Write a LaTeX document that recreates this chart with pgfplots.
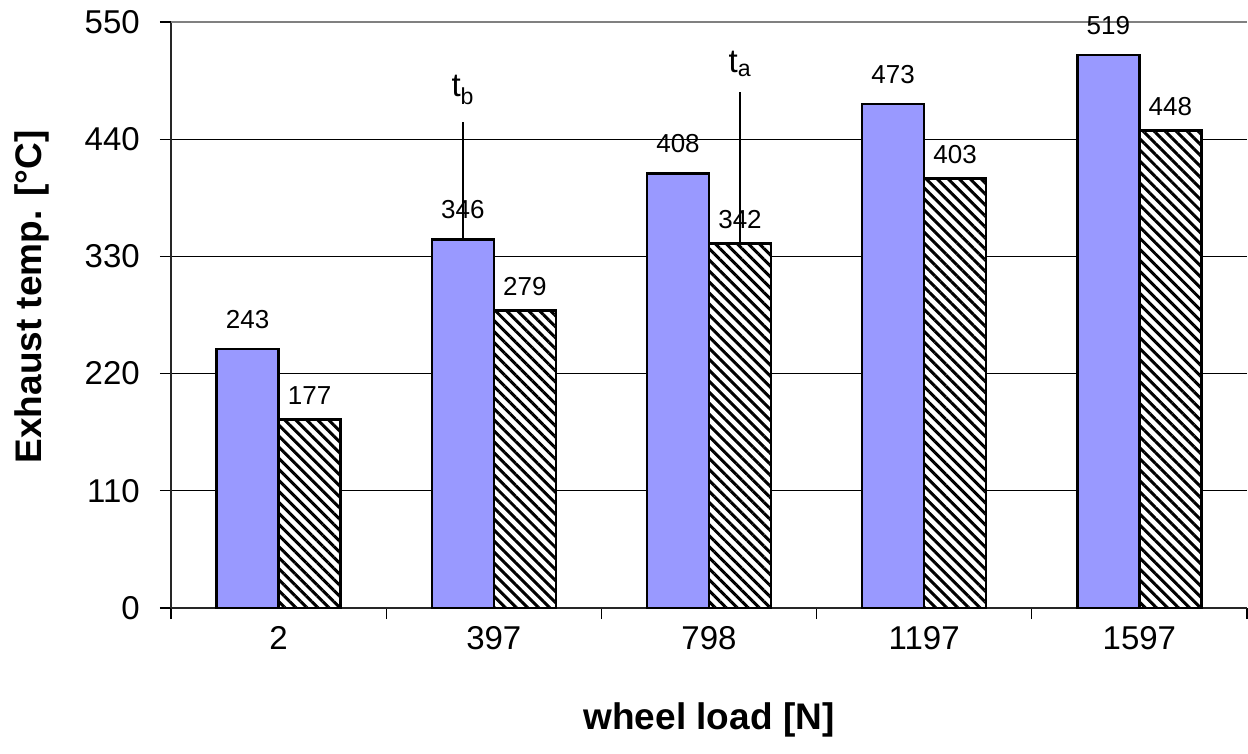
\documentclass[border=0pt]{standalone}
\usepackage{fontspec}
\setmainfont{Liberation Sans}
\usepackage{pgfplots}
\pgfplotsset{compat=1.18}
\usetikzlibrary{patterns.meta}

\definecolor{barblue}{HTML}{9999FF}

\begin{document}
\begin{tikzpicture}
\path[use as bounding box] (-171pt,-145pt) rectangle (1077pt,608pt);
\begin{axis}[
    at={(0,0)}, anchor=south west,
    scale only axis,
    width=1076pt, height=586pt,
    ybar=0pt, bar width=62pt,
    xmin=-0.5, xmax=4.5,
    ymin=0, ymax=550,
    axis lines*=left,
    axis line style={line width=1.5pt, black!85},
    xtick={-0.5,0.5,1.5,2.5,3.5,4.5},
    xticklabels={},
    extra x ticks={0,1,2,3,4},
    extra x tick labels={2,397,798,1197,1597},
    extra x tick style={major tick length=0pt, grid=none},
    ytick={0,110,220,330,440},
    extra y ticks={550},
    extra y tick style={grid style={gray, line width=1.5pt}},
    ymajorgrids,
    grid style={black, line width=1pt},
    tick align=outside,
    major tick length=11pt,
    tick style={line width=1.2pt, black},
    /pgf/number format/assume math mode=true,
    ticklabel style={font=\fontsize{33}{38}\selectfont},
    xticklabel style={inner sep=0pt, yshift=-18pt},
    yticklabel style={inner sep=0pt, xshift=-20pt},
    xlabel={\textbf{wheel load [N]}},
    ylabel={\textbf{Exhaust temp. [°C]}},
    xlabel style={font=\fontsize{37}{42}\selectfont, at={([yshift=-112pt]axis description cs:0.5,0)}, anchor=center},
    ylabel style={font=\fontsize{37}{42}\selectfont, at={([xshift=-139pt,yshift=18pt]axis description cs:0,0.5)}, anchor=center},
    clip=false,
]
\addplot[fill=barblue, draw=black, line width=2.5pt,
    nodes near coords,
    nodes near coords style={font=\fontsize{26}{30}\selectfont, anchor=south, inner sep=0pt, yshift=19pt, black}]
    coordinates {(0,243) (1,346) (2,408) (3,473) (4,519)};
\addplot[draw=black, line width=2.5pt,
    preaction={fill=white},
    pattern={Lines[angle=-45, distance=7.8pt, line width=3pt]}, pattern color=black,
    nodes near coords,
    nodes near coords style={font=\fontsize{26}{30}\selectfont, anchor=south, inner sep=0pt, yshift=14pt, black}]
    coordinates {(0,177) (1,279) (2,342) (3,403) (4,448)};
% t_b and t_a markers
\draw[line width=1.5pt] ([xshift=-31pt]axis cs:1,346) -- ([xshift=-31pt]axis cs:1,456)
    node[anchor=south, inner sep=0pt, yshift=17pt, font=\fontsize{33}{38}\selectfont] {t\textsubscript{b}};
\draw[line width=1.5pt] ([xshift=31pt]axis cs:2,342) -- ([xshift=31pt]axis cs:2,484)
    node[anchor=south, inner sep=0pt, yshift=15pt, font=\fontsize{33}{38}\selectfont] {t\textsubscript{a}};
\end{axis}
\end{tikzpicture}
\end{document}
